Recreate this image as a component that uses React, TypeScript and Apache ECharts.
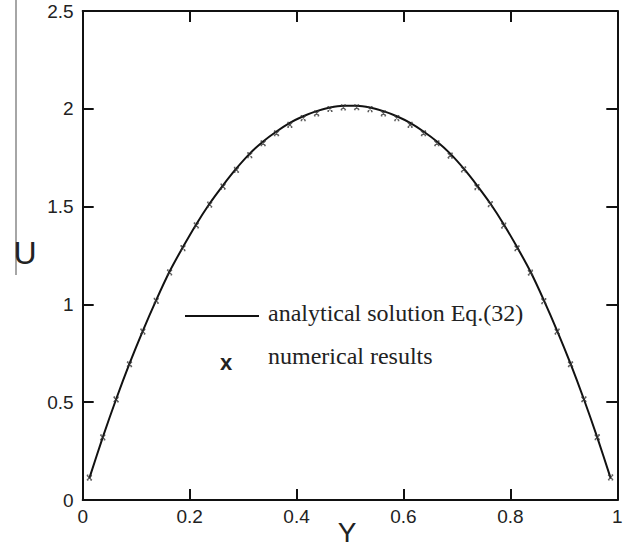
import React, { useEffect, useRef } from "react";
import * as echarts from "echarts";

// Y positions of the samples
const yPositions = [
  0.0125, 0.0375, 0.0625, 0.0875, 0.1125, 0.1375, 0.1625, 0.1875, 0.2125, 0.2375,
  0.2625, 0.2875, 0.3125, 0.3375, 0.3625, 0.3875, 0.4125, 0.4375, 0.4625, 0.4875,
  0.5125, 0.5375, 0.5625, 0.5875, 0.6125, 0.6375, 0.6625, 0.6875, 0.7125, 0.7375,
  0.7625, 0.7875, 0.8125, 0.8375, 0.8625, 0.8875, 0.9125, 0.9375, 0.9625, 0.9875,
];

// analytical solution Eq.(32) (line)
const analyticalU = [
  0.112, 0.32, 0.515, 0.697, 0.865, 1.022, 1.168, 1.293, 1.41, 1.516,
  1.609, 1.695, 1.771, 1.833, 1.884, 1.928, 1.962, 1.988, 2.007, 2.016,
  2.016, 2.007, 1.988, 1.962, 1.928, 1.884, 1.833, 1.771, 1.695, 1.609,
  1.516, 1.41, 1.293, 1.168, 1.022, 0.865, 0.697, 0.515, 0.32, 0.112,
];

// numerical results (x markers)
const numericalU = [
  0.114, 0.32, 0.514, 0.694, 0.861, 1.018, 1.164, 1.288, 1.404, 1.51,
  1.602, 1.688, 1.763, 1.824, 1.875, 1.918, 1.952, 1.977, 1.999, 2.007,
  2.008, 1.998, 1.977, 1.952, 1.918, 1.875, 1.824, 1.761, 1.69, 1.6,
  1.513, 1.403, 1.287, 1.162, 1.017, 0.861, 0.694, 0.515, 0.321, 0.116,
];

const legendLabels = ["analytical solution Eq.(32)", "numerical results"];
const xAxisTitle = "Y";
const yAxisTitle = "U";

const SANS = "'Liberation Sans', Arial, sans-serif";
const SERIF = "'Liberation Serif', 'Times New Roman', serif";

export default function App() {
  const ref = useRef<HTMLDivElement>(null);

  useEffect(() => {
    if (!ref.current) return;
    const chart = echarts.init(ref.current, null, { renderer: "svg" });

    const axisLine = { show: true, onZero: false, lineStyle: { color: "#111", width: 2 } };
    const axisTick = { show: true, inside: true, length: 11, lineStyle: { color: "#111", width: 2 } };
    const axisLabel = { color: "#222", fontSize: 19, fontFamily: SANS };

    chart.setOption({
      animation: false,
      backgroundColor: "#ffffff",
      grid: {
        left: 82.7,
        right: 11.7,
        top: 11,
        bottom: 47,
        containLabel: false,
        outerBoundsMode: "none",
      },
      xAxis: [
        {
          type: "value",
          min: 0,
          max: 1,
          interval: 0.2,
          position: "bottom",
          axisLine,
          axisTick,
          axisLabel: { ...axisLabel, margin: 7 },
          splitLine: { show: false },
        },
        {
          type: "value",
          min: 0,
          max: 1,
          interval: 0.2,
          position: "top",
          axisLine,
          axisTick,
          axisLabel: { show: false },
          splitLine: { show: false },
        },
      ],
      yAxis: [
        {
          type: "value",
          min: 0,
          max: 2.5,
          interval: 0.5,
          position: "left",
          axisLine,
          axisTick,
          axisLabel: { ...axisLabel, margin: 9 },
          splitLine: { show: false },
        },
        {
          type: "value",
          min: 0,
          max: 2.5,
          interval: 0.5,
          position: "right",
          axisLine,
          axisTick,
          axisLabel: { show: false },
          splitLine: { show: false },
        },
      ],
      series: [
        {
          name: legendLabels[0],
          type: "line",
          data: yPositions.map((y, i) => [y, analyticalU[i]]),
          showSymbol: false,
          smooth: 0.3,
          lineStyle: { color: "#111", width: 2 },
          z: 2,
        },
        {
          name: legendLabels[1],
          type: "scatter",
          data: yPositions.map((y, i) => [y, numericalU[i]]),
          symbol: "path://M0,0L10,10M10,0L0,10M0,0L3,0M7,0L10,0M0,10L3,10M7,10L10,10",
          symbolSize: 5,
          itemStyle: { color: "transparent", borderColor: "#333", borderWidth: 1.2 },
          z: 3,
        },
      ],
      graphic: [
        {
          type: "line",
          shape: { x1: 16, y1: 0, x2: 16, y2: 275 },
          style: { stroke: "#888", lineWidth: 1.5 },
          silent: true,
        },
        {
          type: "text",
          x: 25,
          y: 253,
          style: {
            text: yAxisTitle,
            font: `32px ${SANS}`,
            fill: "#222",
            verticalAlign: "middle",
            align: "center",
          },
          silent: true,
        },
        {
          type: "text",
          x: 347,
          y: 532,
          style: {
            text: xAxisTitle,
            font: `28px ${SANS}`,
            fill: "#222",
            verticalAlign: "middle",
            align: "center",
          },
          silent: true,
        },
        {
          type: "line",
          shape: { x1: 185, y1: 316, x2: 259, y2: 316 },
          style: { stroke: "#111", lineWidth: 2 },
          silent: true,
        },
        {
          type: "text",
          x: 268,
          y: 313,
          style: {
            text: legendLabels[0],
            font: `24px ${SERIF}`,
            fill: "#222",
            verticalAlign: "middle",
            align: "left",
          },
          silent: true,
        },
        {
          type: "text",
          x: 226,
          y: 362,
          style: {
            text: "x",
            font: `bold 22px ${SANS}`,
            fill: "#222",
            verticalAlign: "middle",
            align: "center",
          },
          silent: true,
        },
        {
          type: "text",
          x: 268,
          y: 356,
          style: {
            text: legendLabels[1],
            font: `24px ${SERIF}`,
            fill: "#222",
            verticalAlign: "middle",
            align: "left",
          },
          silent: true,
        },
      ],
    });

    return () => chart.dispose();
  }, []);

  return (
    <div
      ref={ref}
      style={{ position: "fixed", left: 0, top: 0, width: 629, height: 547, background: "#fff" }}
    />
  );
}
